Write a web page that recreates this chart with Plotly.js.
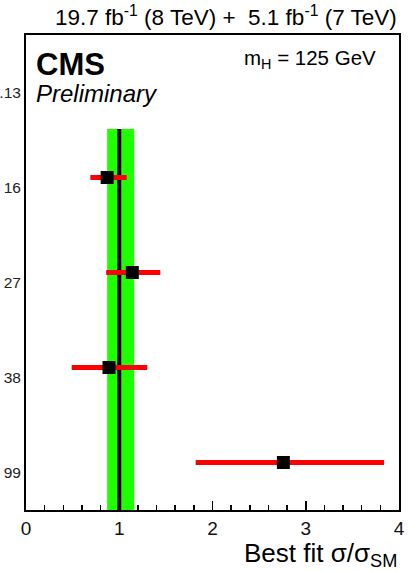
<!DOCTYPE html>
<html>
<head>
<meta charset="utf-8">
<script src="https://cdn.plot.ly/plotly-3.0.1.min.js"></script>
<style>
  html, body { margin: 0; padding: 0; background: #fff; }
  #chart { width: 413px; height: 571px; }
</style>
</head>
<body>
<div id="chart"></div>
<script>
// Row positions (0 = top row) and their labels
const rowIndex = [0, 1, 2, 3, 4];
const rowLabels = ['.13', '16', '27', '38', '99'];

// Best-fit signal strength per channel (rows 1..4) with asymmetric uncertainties
const fitRows = [1, 2, 3, 4];
const bestFit = [0.87, 1.14, 0.89, 2.76];
const errUp   = [0.21, 0.30, 0.41, 1.08];
const errDown = [0.18, 0.28, 0.40, 0.94];

// Combined result: central value and band
const combined = 1.00;
const combinedBand = [0.87, 1.16];
const bandRows = [0.49, 4.5];

const fontFam = '"Liberation Sans", Arial, Helvetica, sans-serif';

const traces = [{
  type: 'scatter',
  mode: 'markers',
  x: bestFit,
  y: fitRows,
  marker: { symbol: 'square', size: 13, color: '#000' },
  error_x: {
    type: 'data', symmetric: false,
    array: errUp, arrayminus: errDown,
    color: '#ff0000', thickness: 5, width: 0
  },
  hoverinfo: 'x',
  showlegend: false
}];

const layout = {
  width: 413, height: 571,
  margin: { l: 26, r: 14, t: 35, b: 61 },
  paper_bgcolor: '#fff', plot_bgcolor: '#fff',
  font: { family: fontFam, color: '#000' },
  xaxis: {
    range: [0, 4],
    showgrid: false, zeroline: false,
    showline: true, mirror: true, linecolor: '#000', linewidth: 2,
    ticks: 'inside', ticklen: 9, tickwidth: 1.5, tickcolor: '#000',
    tickvals: [0, 1, 2, 3, 4],
    minor: { ticks: 'inside', ticklen: 5, tickwidth: 1.5, tickcolor: '#000', dtick: 0.2 },
    tickfont: { size: 19, color: '#111', family: fontFam },
    ticklabelstandoff: 0
  },
  yaxis: {
    range: [4.5, -0.5],
    showgrid: false, zeroline: false,
    showline: true, mirror: true, linecolor: '#000', linewidth: 2,
    ticks: '',
    tickvals: rowIndex, ticktext: rowLabels,
    tickfont: { size: 15.5, color: '#222', family: fontFam },
    ticklabelshift: -10,
    ticklabelstandoff: 0
  },
  shapes: [
    {
      type: 'rect', layer: 'below', xref: 'x', yref: 'y',
      x0: combinedBand[0], x1: combinedBand[1], y0: bandRows[0], y1: bandRows[1],
      fillcolor: '#1eff00', line: { width: 0 }
    },
    {
      type: 'line', layer: 'below', xref: 'x', yref: 'y',
      x0: combined, x1: combined, y0: bandRows[0], y1: bandRows[1],
      line: { color: '#000', width: 4 }
    }
  ],
  annotations: [
    {
      xref: 'paper', yref: 'paper', x: 1, y: 1, xanchor: 'right', yanchor: 'bottom',
      yshift: 3, showarrow: false,
      text: '19.7 fb<sup>-1</sup> (8 TeV) +  5.1 fb<sup>-1</sup> (7 TeV)',
      font: { size: 22.5, color: '#000', family: fontFam }
    },
    {
      xref: 'paper', yref: 'paper', x: 0, y: 1, xanchor: 'left', yanchor: 'top',
      xshift: 8, yshift: -10, showarrow: false,
      text: '<b>CMS</b>',
      font: { size: 31, color: '#000', family: fontFam }
    },
    {
      xref: 'paper', yref: 'paper', x: 0, y: 1, xanchor: 'left', yanchor: 'top',
      xshift: 8, yshift: -43, showarrow: false,
      text: '<i>Preliminary</i>',
      font: { size: 24, color: '#000', family: fontFam }
    },
    {
      xref: 'paper', yref: 'paper', x: 1, y: 1, xanchor: 'right', yanchor: 'top',
      xshift: -21, yshift: -9, showarrow: false,
      text: 'm<sub>H</sub> = 125 GeV',
      font: { size: 20.5, color: '#000', family: fontFam }
    },
    {
      xref: 'paper', yref: 'paper', x: 1, y: 0, xanchor: 'right', yanchor: 'top',
      yshift: -26, showarrow: false,
      text: 'Best fit σ/σ<sub>SM</sub>',
      font: { size: 26, color: '#000', family: fontFam }
    }
  ]
};

Plotly.newPlot('chart', traces, layout, { displayModeBar: false, staticPlot: true });
</script>
</body>
</html>
